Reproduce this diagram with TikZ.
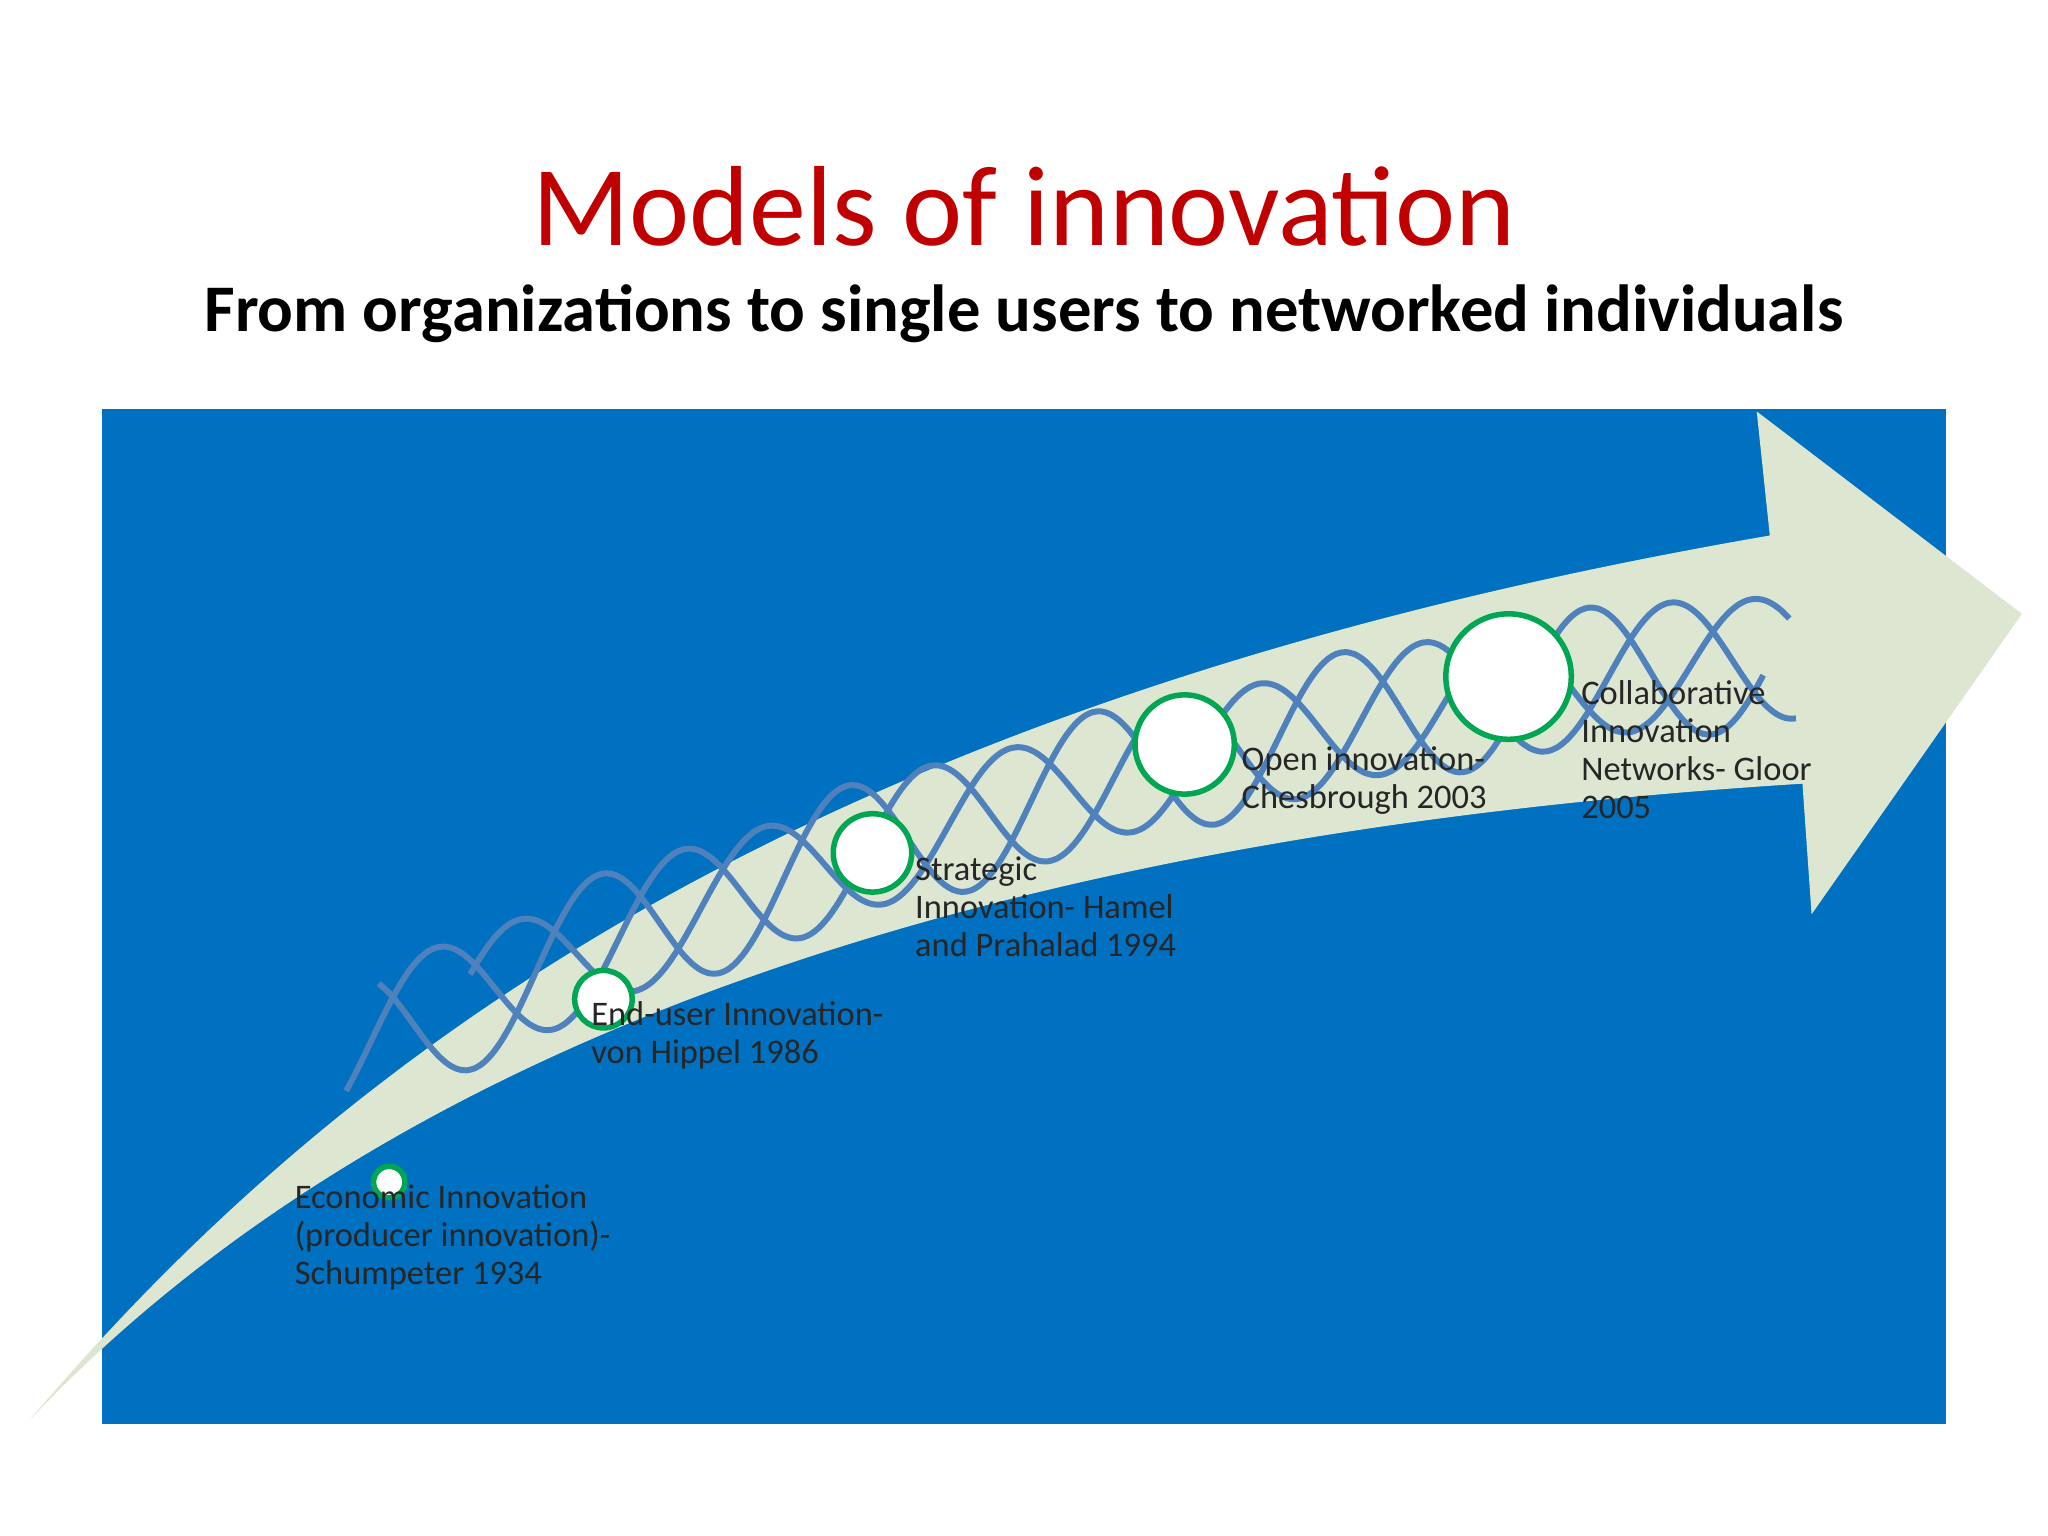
\documentclass[tikz,border=0pt]{standalone}
\usepackage{fontspec}
\setmainfont{Carlito}
\definecolor{bgblue}{RGB}{0,112,192}
\definecolor{arrowgreen}{RGB}{221,230,208}
\definecolor{wavecol}{RGB}{79,129,189}
\definecolor{titlered}{RGB}{192,0,0}
\definecolor{ringgreen}{RGB}{0,166,81}
\begin{document}
\begin{tikzpicture}[x=0.01cm,y=-0.01cm,
  lbl/.style={anchor=north west,align=left,font=\fontsize{7.5}{8.3}\selectfont,inner sep=0pt,text=black!85},
  milestone/.style={circle,draw=ringgreen,line width=1.2pt,fill=white,inner sep=0pt},
  wave/.style={draw=wavecol,line width=1.3pt}]
\useasboundingbox (0,0) rectangle (1568,1176);
\fill[white] (0,0) rectangle (1568,1176);
\node[text=titlered,font=\fontsize{24.8}{28}\selectfont] (title) at (784,158) {Models of innovation};
\node[font=\bfseries\fontsize{14.5}{17}\selectfont] (sub) at (784,240) {From organizations to single users to networked individuals};
\fill[bgblue] (78,313) rectangle (1490,1090);
\fill[arrowgreen] (22,1088) .. controls (250,820) and (600,540) .. (1355,410)
  -- (1345,315) -- (1548,470) -- (1387,700) -- (1380,600)
  .. controls (900,630) and (350,740) .. (22,1088) -- cycle;
\foreach \p/\a/\s/\e in {0/50/265/1375, 120/55/290/1350, 240/45/360/1370}
  \draw[wave,smooth,samples=160,domain=\s:\e] plot ({\x},{935.3-53.1*(\x/100)+1.56*(\x/100)*(\x/100)+\a*sin(1.9*\x+\p)});
\node[milestone,minimum size=0.24cm] (c1) at (298,905) {};
\node[milestone,minimum size=0.44cm] (c2) at (462,765) {};
\node[milestone,minimum size=0.60cm] (c3) at (668,653) {};
\node[milestone,minimum size=0.76cm] (c4) at (907,570) {};
\node[milestone,minimum size=0.96cm] (c5) at (1155,518) {};
\node[lbl] (l1) at (225,906) {Economic Innovation\\(producer innovation)-\\Schumpeter 1934};
\node[lbl] (l2) at (452,766) {End-user Innovation-\\von Hippel 1986};
\node[lbl] (l3) at (700,655) {Strategic\\Innovation- Hamel\\and Prahalad 1994};
\node[lbl] (l4) at (950,571) {Open innovation-\\Chesbrough 2003};
\node[lbl] (l5) at (1210,520) {Collaborative\\Innovation\\Networks- Gloor\\2005};
\end{tikzpicture}
\end{document}
